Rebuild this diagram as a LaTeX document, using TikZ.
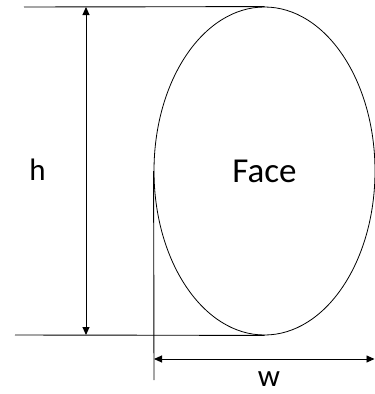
\documentclass[tikz,border=0pt]{standalone}
\usepackage{fontspec}
\setmainfont{Carlito}
\usetikzlibrary{arrows.meta,shapes.geometric}

\begin{document}
\begin{tikzpicture}[x=1pt, y=-1pt,
    facebox/.style={ellipse, draw, line width=0.8pt, inner sep=0pt,
                minimum width=221pt, minimum height=328pt, font=\fontsize{35}{40}\selectfont},
    guide/.style={line width=0.9pt},
    dimarr/.style={{Triangle[length=8pt,width=7pt]}-{Triangle[length=8pt,width=7pt]}, line width=0.9pt},
    lbl/.style={inner sep=0pt, font=\fontsize{31}{36}\selectfont}]
\useasboundingbox (0,0) rectangle (375,394);
\node[facebox] (face) at (264.5,171) {Face};
\coordinate (topend) at (24,7);
\coordinate (botend) at (15,335);
\draw[guide] (topend) -- (face.north);
\draw[guide] (botend) -- (face.south);
\coordinate (hup) at (86,7);
\coordinate (hdown) at (86,335);
\draw[dimarr] (hup) -- (hdown);
\node[lbl] (hlabel) at (37.5,170) {h};
\coordinate (wfoot) at (154,380);
\draw[guide] (face.west) -- (wfoot);
\coordinate (wleft) at (154,359);
\coordinate (wright) at (374.5,359);
\draw[dimarr] (wleft) -- (wright);
\node[lbl] (wlabel) at (269,379.5) {w};
\end{tikzpicture}
\end{document}
